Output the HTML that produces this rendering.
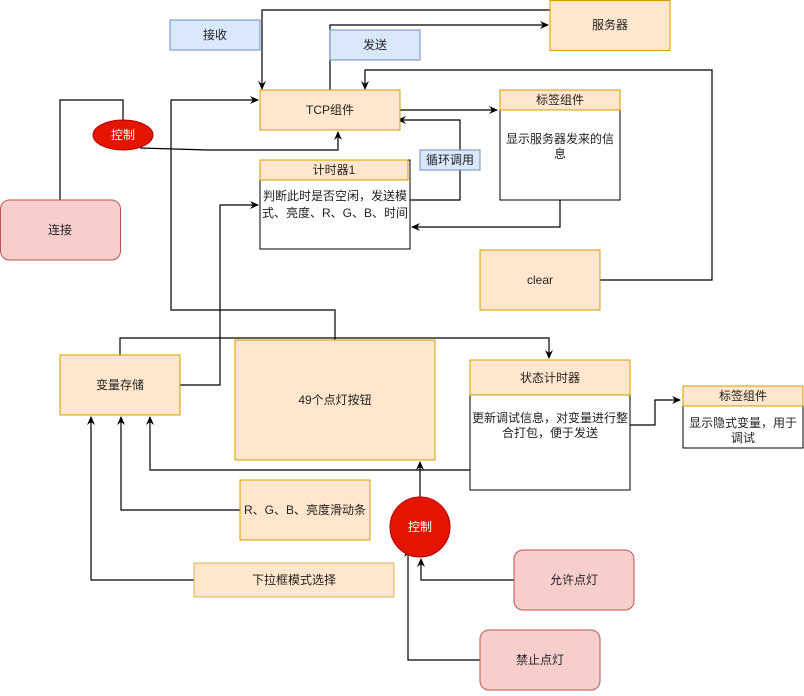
<!DOCTYPE html>
<html><head><meta charset="utf-8"><style>
html,body{margin:0;padding:0;background:#fff;}
svg text{font-family:"Liberation Sans","Noto Sans CJK SC",sans-serif;font-size:12px;fill:#222;}
</style></head><body>
<svg width="804" height="691" viewBox="0 0 804 691" xmlns="http://www.w3.org/2000/svg">
<defs><marker id="a" markerWidth="10" markerHeight="10" refX="8" refY="5" orient="auto" markerUnits="userSpaceOnUse"><path d="M0,1 L9,5 L0,9 L3,5 Z" fill="#000"/></marker></defs>
<g fill="none" stroke="#000" stroke-width="1.2">
<polyline points="550,10 262,10 262,89" marker-end="url(#a)"/>
<polyline points="330,90 330,25 548,25" marker-end="url(#a)"/>
<polyline points="600,280 712,280 712,70 365,70 365,89" marker-end="url(#a)"/>
<polyline points="400,110 497,110" marker-end="url(#a)"/>
<polyline points="410,200 460,200 460,120 398,120" marker-end="url(#a)"/>
<polyline points="560,200 560,227 412,227" marker-end="url(#a)"/>
<polyline points="60,200 60,100 123,100 123,120"/>
<polyline points="140,148 208,150 338,150 338,132" marker-end="url(#a)"/>
<polyline points="335,340 335,310 171,310 171,100 258,100" marker-end="url(#a)"/>
<polyline points="180,385 220,385 220,205 258,205" marker-end="url(#a)"/>
<polyline points="120,355 120,338 549,338 549,358" marker-end="url(#a)"/>
<polyline points="630,425 655,425 655,400 680,400" marker-end="url(#a)"/>
<polyline points="470,470 150,470 150,417" marker-end="url(#a)"/>
<polyline points="240,510 121,510 121,417" marker-end="url(#a)"/>
<polyline points="194,580 91,580 91,417" marker-end="url(#a)"/>
<polyline points="420,497 420,462" marker-end="url(#a)"/>
<polyline points="514,580 421,580 421,559" marker-end="url(#a)"/>
<polyline points="480,660 408,660 408,549" marker-end="url(#a)"/>
</g>
<g stroke-width="1">
<rect x="170" y="20" width="90" height="30" fill="#dae8fc" stroke="#6c8ebf"/>
<rect x="330" y="30" width="90" height="30" fill="#dae8fc" stroke="#6c8ebf"/>
<rect x="420" y="150" width="60" height="20" fill="#dae8fc" stroke="#6c8ebf"/>
<rect x="550" y="0.5" width="120" height="50" fill="#ffe6cc" stroke="#d79b00"/>
<rect x="260" y="90" width="140" height="40" fill="#ffe6cc" stroke="#d79b00"/>
<rect x="260" y="160" width="150" height="89" fill="#fff" stroke="#000"/>
<rect x="260" y="160" width="148" height="20" fill="#ffe6cc" stroke="#d79b00"/>
<rect x="500" y="90" width="120" height="110" fill="#fff" stroke="#000"/>
<rect x="500" y="90" width="120" height="20" fill="#ffe6cc" stroke="#d79b00"/>
<rect x="480" y="250" width="120" height="60" fill="#ffe6cc" stroke="#d79b00"/>
<rect x="60" y="355" width="120" height="60" fill="#ffe6cc" stroke="#d79b00"/>
<rect x="235" y="340" width="200" height="120" fill="#ffe6cc" stroke="#d79b00"/>
<rect x="470" y="360" width="160" height="130" fill="#fff" stroke="#000"/>
<rect x="470" y="360" width="160" height="35" fill="#ffe6cc" stroke="#d79b00"/>
<rect x="683" y="386" width="120" height="62" fill="#fff" stroke="#000"/>
<rect x="683" y="386" width="120" height="20" fill="#ffe6cc" stroke="#d79b00"/>
<rect x="240" y="480" width="130" height="60" fill="#ffe6cc" stroke="#d79b00"/>
<rect x="194" y="563" width="200" height="34" fill="#ffe6cc" stroke="#d6b656"/>
<rect x="0.5" y="200" width="120" height="60" rx="9" fill="#f8cecc" stroke="#b85450"/>
<rect x="514" y="550" width="120" height="60" rx="9" fill="#f8cecc" stroke="#b85450"/>
<rect x="480" y="630" width="120" height="60" rx="9" fill="#f8cecc" stroke="#b85450"/>
<ellipse cx="123" cy="135" rx="30" ry="15" fill="#e51400" stroke="#b20000"/>
<circle cx="420" cy="527" r="30" fill="#e51400" stroke="#b20000"/>
</g>
<g text-anchor="middle">
<text x="215" y="39">接收</text>
<text x="375" y="49">发送</text>
<text x="450" y="164">循环调用</text>
<text x="610" y="29">服务器</text>
<text x="330" y="114">TCP组件</text>
<text x="334" y="174">计时器1</text>
<text x="335" y="200">判断此时是否空闲，发送模</text>
<text x="335" y="217">式、亮度、R、G、B、时间</text>
<text x="560" y="104">标签组件</text>
<text x="560" y="143">显示服务器发来的信</text>
<text x="560" y="158">息</text>
<text x="540" y="284">clear</text>
<text x="60" y="234">连接</text>
<text x="120" y="389">变量存储</text>
<text x="335" y="404">49个点灯按钮</text>
<text x="550" y="382">状态计时器</text>
<text x="550" y="422">更新调试信息，对变量进行整</text>
<text x="550" y="437">合打包，便于发送</text>
<text x="743" y="400">标签组件</text>
<text x="743" y="427">显示隐式变量，用于</text>
<text x="743" y="442">调试</text>
<text x="305" y="514">R、G、B、亮度滑动条</text>
<text x="294" y="584">下拉框模式选择</text>
<text x="574" y="584">允许点灯</text>
<text x="540" y="664">禁止点灯</text>
<text x="123" y="139" style="fill:#fff">控制</text>
<text x="420" y="531" style="fill:#fff">控制</text>
</g>
</svg>
</body></html>
